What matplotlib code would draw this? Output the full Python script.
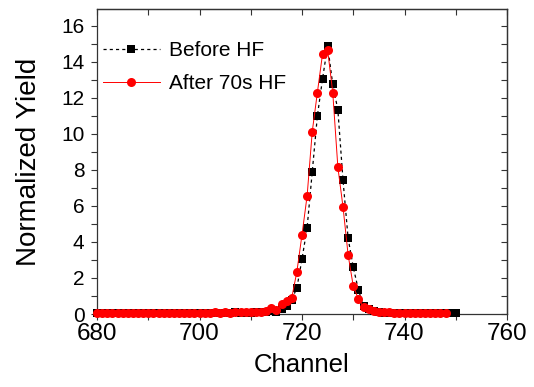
import matplotlib
matplotlib.use("Agg")
import matplotlib.pyplot as plt
from matplotlib.ticker import MultipleLocator

plt.rcParams['font.family'] = ['Liberation Sans', 'DejaVu Sans']

# ---- data ----
before_channel = list(range(680, 751))
before_yield = [
    0.05, 0.04, 0.05, 0.03, 0.05, 0.04, 0.05, 0.05, 0.04, 0.05,   # 680-689
    0.05, 0.04, 0.05, 0.05, 0.04, 0.05, 0.06, 0.08, 0.05, 0.05,   # 690-699
    0.06, 0.08, 0.05, 0.06, 0.05, 0.06, 0.07, 0.09, 0.06, 0.07,   # 700-709
    0.08, 0.10, 0.12, 0.12, 0.15, 0.12, 0.25, 0.45, 0.80, 1.45,   # 710-719
    3.05, 4.80, 7.90, 11.00, 13.05, 14.90, 12.75, 11.33, 7.44, 4.20,  # 720-729
    2.60, 1.35, 0.45, 0.25, 0.15, 0.10, 0.08, 0.07, 0.06, 0.05,   # 730-739
    0.05, 0.05, 0.04, 0.05, 0.04, 0.05, 0.04, 0.05, 0.04, 0.05,   # 740-749
    0.03,                                                          # 750
]

after_channel = list(range(680, 749))
after_yield = [
    0.06, 0.07, 0.06, 0.07, 0.08, 0.06, 0.07, 0.08, 0.07, 0.06,   # 680-689
    0.07, 0.06, 0.08, 0.07, 0.06, 0.07, 0.08, 0.07, 0.07, 0.08,   # 690-699
    0.07, 0.08, 0.07, 0.09, 0.08, 0.09, 0.08, 0.10, 0.09, 0.10,   # 700-709
    0.11, 0.12, 0.13, 0.15, 0.35, 0.20, 0.55, 0.70, 0.90, 2.35,   # 710-719
    4.40, 6.57, 10.13, 12.30, 14.43, 14.67, 12.30, 8.15, 5.95, 3.28,  # 720-729
    1.55, 0.83, 0.40, 0.25, 0.15, 0.12, 0.10, 0.09, 0.08, 0.08,   # 730-739
    0.07, 0.08, 0.07, 0.07, 0.08, 0.07, 0.06, 0.07, 0.08,         # 740-748
]

labels = ["Before HF", "After 70s HF"]
x_ticks = [680, 700, 720, 740, 760]
y_ticks = [0, 2, 4, 6, 8, 10, 12, 14, 16]

# ---- figure ----
fig = plt.figure(figsize=(5.34, 3.87), dpi=100)
ax = fig.add_axes([97/534, 1 - 314/387, (507 - 97)/534, (314 - 9)/387])

ax.plot(before_channel, before_yield, color='black', linestyle=(0, (2.5, 2.5)),
        linewidth=0.9, marker='s', markersize=5.5, markeredgewidth=0,
        label=labels[0], clip_on=False, zorder=3)
ax.plot(after_channel, after_yield, color='#ff0000', linestyle='-',
        linewidth=0.7, marker='o', markersize=6.5, markeredgewidth=0,
        label=labels[1], clip_on=False, zorder=4)

ax.set_xlim(680, 760)
ax.set_ylim(0, 16.94)
ax.set_xticks(x_ticks)
ax.set_yticks(y_ticks)
ax.xaxis.set_minor_locator(MultipleLocator(10))
ax.yaxis.set_minor_locator(MultipleLocator(1))

ax.tick_params(axis='both', which='both', direction='out', length=4, width=0.8,
               color='#333333')
ax.tick_params(axis='x', which='major', labelsize=17.5, pad=2.5)
ax.tick_params(axis='y', which='major', labelsize=15, pad=5)

# mirrored axes (top/right) with inward ticks
secx = ax.secondary_xaxis('top')
secx.set_xticks(x_ticks)
secx.xaxis.set_minor_locator(MultipleLocator(10))
secx.tick_params(axis='x', which='both', direction='in', length=4, width=0.8,
                 labeltop=False, color='#333333')
secy = ax.secondary_yaxis('right')
secy.set_yticks(y_ticks)
secy.yaxis.set_minor_locator(MultipleLocator(1))
secy.tick_params(axis='y', which='both', direction='in', length=4, width=0.8,
                 labelright=False, color='#333333')

for sp in list(ax.spines.values()) + list(secx.spines.values()) + list(secy.spines.values()):
    sp.set_linewidth(0.9)
    sp.set_color('#333333')

ax.set_xlabel("Channel", fontsize=18.5, labelpad=6)
ax.set_ylabel("Normalized Yield", fontsize=20, labelpad=14)

ax.legend(loc='upper left', bbox_to_anchor=(0.0, 0.915), frameon=False,
          fontsize=15, handlelength=2.7, handletextpad=0.45, labelspacing=0.68,
          borderpad=0.3, borderaxespad=0.0)

fig.savefig("out.png", dpi=100)
